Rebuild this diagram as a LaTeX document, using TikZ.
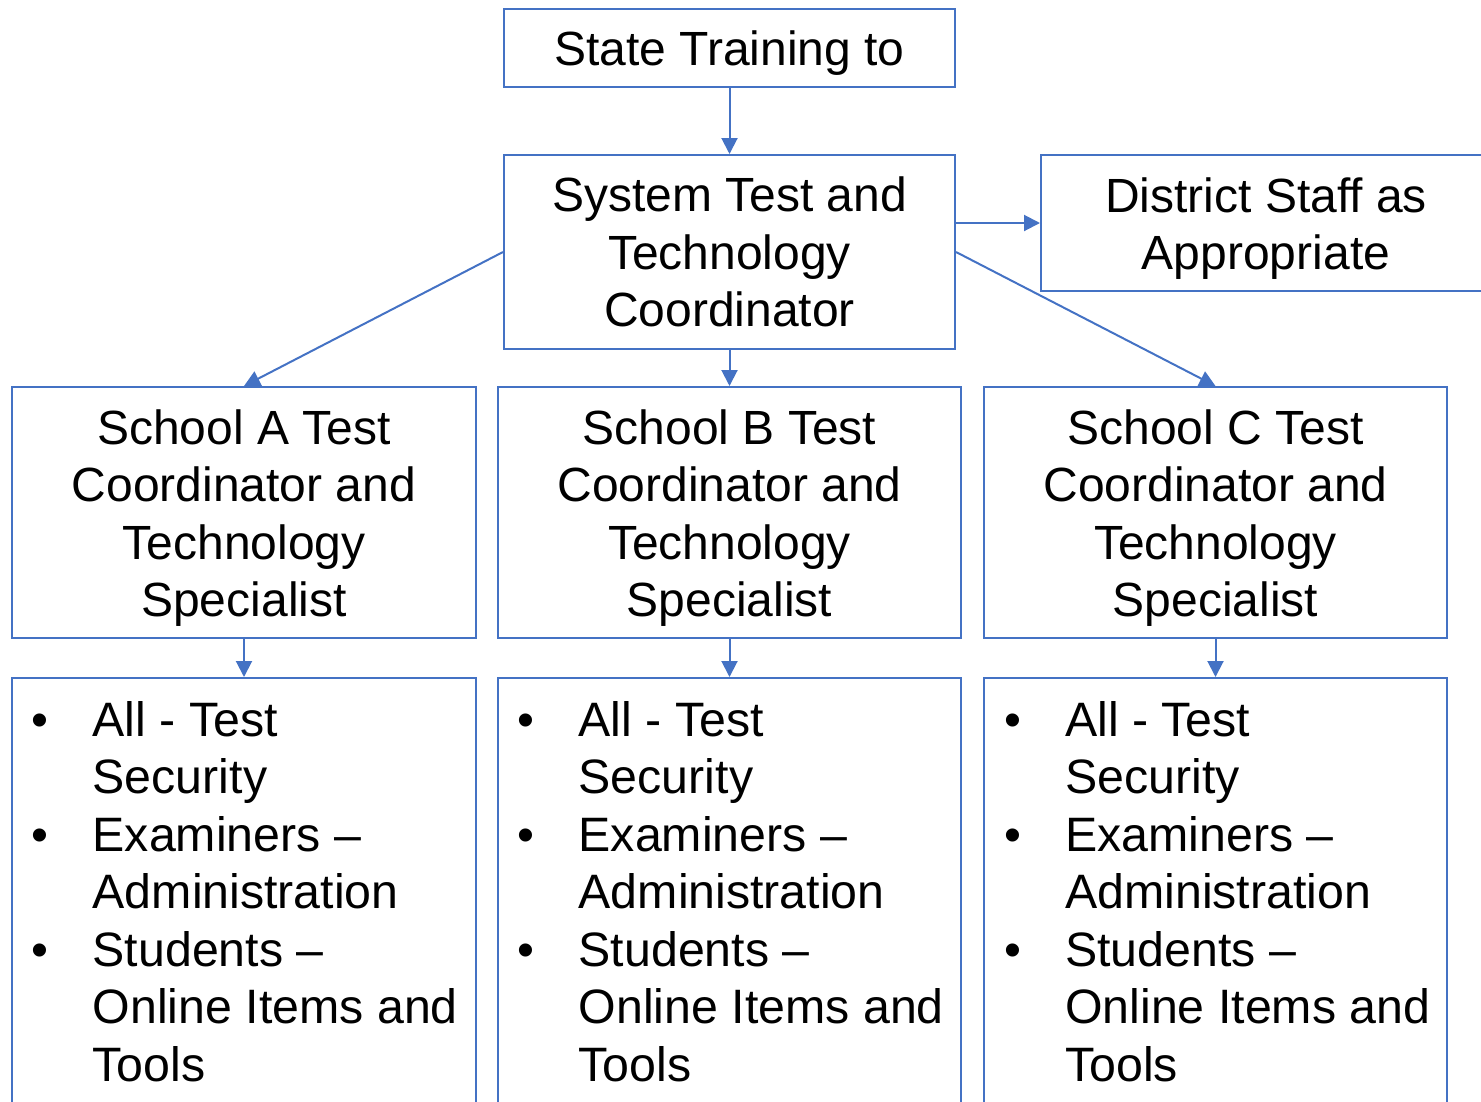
\documentclass[tikz,border=0pt]{standalone}
\usepackage{fontspec}
\setmainfont{Liberation Sans}
\usetikzlibrary{arrows.meta}
\newlength{\du}
\setlength{\du}{15\unitlength}
\definecolor{dialinecolor}{rgb}{0.266667, 0.447059, 0.768627}
\newcommand{\firststrut}{\rule{0pt}{46pt}}
\tikzset{
  box/.style={draw=dialinecolor, line width=0.133333\du, fill=white, inner sep=0pt,
    align=center, font=\fontsize{48pt}{57.5pt}\selectfont},
  listtext/.style={inner sep=0pt, anchor=base west, font=\fontsize{48.3pt}{57.5pt}\selectfont},
  link/.style={draw=dialinecolor, line width=0.133333\du,
    -{Triangle[length=16pt, width=16pt]}},
}
\newcommand{\tasklist}{%
\begin{tabular}[t]{@{}p{4.066667\du}@{}l@{}}
\textbullet & All - Test\\
 & Security\\
\textbullet & Examiners –\\
 & Administration\\
\textbullet & Students –\\
 & Online Items and\\
 & Tools
\end{tabular}}

\begin{document}
\begin{tikzpicture}
\pgftransformxscale{1.000000}
\pgftransformyscale{-1.000000}
\useasboundingbox (0\du,0\du) rectangle (98.733333\du,73.400000\du);
% top rows
\node[box, minimum width=30.066667\du, minimum height=5.200000\du] (training) at (48.633333\du,3.200000\du) {\rule[-11pt]{0pt}{56pt}State Training to};
\node[box, minimum width=30.066667\du, minimum height=12.933333\du] (system) at (48.633333\du,16.800000\du) {\rule{0pt}{35pt}System Test and\\Technology\\Coordinator};
\node[box, minimum width=30.000000\du, minimum height=9.066667\du] (district) at (84.400000\du,14.866667\du) {\firststrut District Staff as\\Appropriate};
% schools
\node[box, minimum width=30.933333\du, minimum height=16.733333\du] (schoolA) at (16.266667\du,34.166667\du) {\firststrut School A Test\\Coordinator and\\Technology\\Specialist};
\node[box, minimum width=30.866667\du, minimum height=16.733333\du] (schoolB) at (48.633333\du,34.166667\du) {\firststrut School B Test\\Coordinator and\\Technology\\Specialist};
\node[box, minimum width=30.866667\du, minimum height=16.733333\du] (schoolC) at (81.033333\du,34.166667\du) {\firststrut School C Test\\Coordinator and\\Technology\\Specialist};
% task boxes
\node[box, minimum width=30.933333\du, minimum height=29.133333\du] (tasksA) at (16.266667\du,59.766667\du) {};
\node[box, minimum width=30.866667\du, minimum height=29.133333\du] (tasksB) at (48.633333\du,59.766667\du) {};
\node[box, minimum width=30.866667\du, minimum height=29.133333\du] (tasksC) at (81.033333\du,59.766667\du) {};
\node[listtext] (listA) at (2.100000\du,49.066667\du) {\tasklist};
\node[listtext] (listB) at (34.500000\du,49.066667\du) {\tasklist};
\node[listtext] (listC) at (66.933333\du,49.066667\du) {\tasklist};
% links
\draw[link] (training.south) -- (system.north);
\draw[link] (system.east |- district.west) -- (district.west);
\draw[link] (system.west) -- (schoolA.north);
\draw[link] (system.south) -- (schoolB.north);
\draw[link] (system.east) -- (schoolC.north);
\draw[link] (schoolA.south) -- (tasksA.north);
\draw[link] (schoolB.south) -- (tasksB.north);
\draw[link] (schoolC.south) -- (tasksC.north);
\end{tikzpicture}
\end{document}
